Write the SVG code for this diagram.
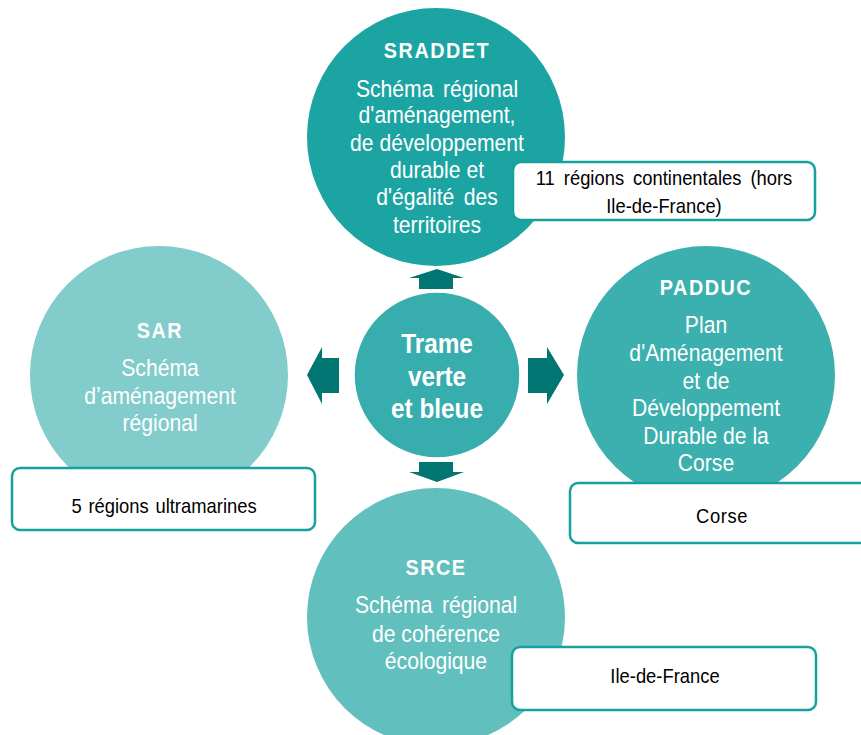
<svg xmlns="http://www.w3.org/2000/svg" width="861" height="735" viewBox="0 0 861 735">
<style>
.t{font-family:"Liberation Sans",Arial,sans-serif;fill:#fff;text-anchor:middle}
.h{font-size:22px;font-weight:bold;letter-spacing:1.7px}
.b{font-size:23.5px}
.c{font-family:"Liberation Sans",Arial,sans-serif;font-size:28px;font-weight:bold;fill:#fff;text-anchor:middle}
.lbl{fill:#fff;stroke:#16a19e;stroke-width:2.5}
.lt{font-family:"Liberation Sans",Arial,sans-serif;font-size:20px;fill:#000;text-anchor:middle}
.arr{fill:#007571}
</style>
<rect width="861" height="735" fill="#fff"/>
<g id="sraddet">
<circle cx="436" cy="137" r="129" fill="#1ca4a3"/>
<text class="t h" transform="translate(437,58) scale(0.9,1)">SRADDET</text>
<text class="t b" transform="translate(437,97) scale(0.9,1)" word-spacing="4">Schéma régional</text>
<text class="t b" transform="translate(437,123) scale(0.9,1)">d'aménagement,</text>
<text class="t b" transform="translate(437,151) scale(0.9,1)">de développement</text>
<text class="t b" transform="translate(437,178) scale(0.9,1)">durable et</text>
<text class="t b" transform="translate(437,205) scale(0.9,1)" word-spacing="4">d'égalité des</text>
<text class="t b" transform="translate(437,233) scale(0.9,1)">territoires</text>
</g>
<g id="sar">
<circle cx="159" cy="375" r="129" fill="#82cccc"/>
<text class="t h" transform="translate(160,338) scale(0.9,1)">SAR</text>
<text class="t b" transform="translate(160,376) scale(0.9,1)">Schéma</text>
<text class="t b" transform="translate(160,404) scale(0.9,1)">d’aménagement</text>
<text class="t b" transform="translate(160,431) scale(0.9,1)">régional</text>
</g>
<g id="padduc">
<circle cx="706" cy="375" r="129" fill="#3cb0ae"/>
<text class="t h" transform="translate(706,295) scale(0.9,1)">PADDUC</text>
<text class="t b" transform="translate(706,333) scale(0.9,1)">Plan</text>
<text class="t b" transform="translate(706,361) scale(0.9,1)">d'Aménagement</text>
<text class="t b" transform="translate(706,389) scale(0.9,1)">et de</text>
<text class="t b" transform="translate(706,416) scale(0.9,1)">Développement</text>
<text class="t b" transform="translate(706,444) scale(0.9,1)">Durable de la</text>
<text class="t b" transform="translate(706,471) scale(0.9,1)">Corse</text>
</g>
<g id="srce">
<circle cx="436" cy="617" r="129" fill="#61bfbe"/>
<text class="t h" transform="translate(436,575) scale(0.9,1)">SRCE</text>
<text class="t b" transform="translate(436,613) scale(0.9,1)" word-spacing="4">Schéma régional</text>
<text class="t b" transform="translate(436,642) scale(0.9,1)">de cohérence</text>
<text class="t b" transform="translate(436,669) scale(0.9,1)">écologique</text>
</g>
<g id="tvb">
<circle cx="437" cy="375" r="83" fill="#38adad" stroke="#fff" stroke-width="1.5"/>
<text class="c" transform="translate(437,353) scale(0.87,1)">Trame</text>
<text class="c" transform="translate(437,386) scale(0.87,1)">verte</text>
<text class="c" transform="translate(437,418) scale(0.87,1)">et bleue</text>
</g>
<g id="connectors">
<polygon class="arr" points="437,269 464,278 453,278 453,289 419,289 419,278 409,278"/>
<polygon class="arr" points="437,482 464,472 453,472 453,462 419,462 419,472 409,472"/>
<polygon class="arr" points="307,375 322,347 322,358 339,358 339,393 322,393 322,404"/>
<polygon class="arr" points="564,375 547,347 547,358 528,358 528,393 547,393 547,404"/>
</g>
<g id="label-sraddet">
<rect class="lbl" x="513" y="162" width="302" height="58" rx="8"/>
<text class="lt" transform="translate(664,185) scale(0.92,1)" word-spacing="4.2">11 régions continentales (hors</text>
<text class="lt" transform="translate(664,213) scale(0.92,1)">Ile-de-France)</text>
</g>
<g id="label-sar">
<rect class="lbl" x="12" y="468" width="303" height="62" rx="8"/>
<text class="lt" transform="translate(164,513) scale(0.92,1)" word-spacing="1.8">5 régions ultramarines</text>
</g>
<g id="label-padduc">
<rect class="lbl" x="570" y="483" width="305" height="60" rx="8"/>
<text class="lt" transform="translate(722,523) scale(0.92,1)" letter-spacing="0.6">Corse</text>
</g>
<g id="label-srce">
<rect class="lbl" x="512" y="647" width="304" height="63" rx="8"/>
<text class="lt" transform="translate(665,683) scale(0.92,1)">Ile-de-France</text>
</g>
</svg>
